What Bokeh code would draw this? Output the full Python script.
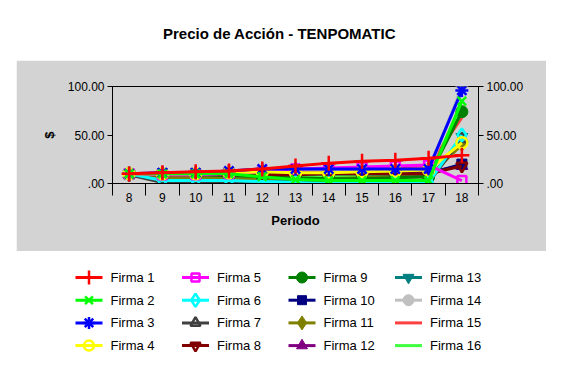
from bokeh.plotting import figure
from bokeh.models import (Range1d, FixedTicker, LinearAxis, ColumnDataSource, Spacer)
from bokeh.core.properties import value
from bokeh.layouts import column, row
from bokeh.embed import file_html
from bokeh.resources import INLINE

FONT = "Liberation Sans"
GREY = "#d3d3d3"

title_text = "Precio de Acción - TENPOMATIC"
x_label = "Periodo"
y_label = "$"
periods = [8, 9, 10, 11, 12, 13, 14, 15, 16, 17, 18]
y_ticks = [0, 50, 100]
y_tick_labels = [".00", "50.00", "100.00"]

firms = ["Firma  1", "Firma  2", "Firma  3", "Firma  4", "Firma  5", "Firma  6",
         "Firma  7", "Firma  8", "Firma  9", "Firma  10", "Firma  11", "Firma  12",
         "Firma  13", "Firma  14", "Firma  15", "Firma  16"]

firma_1 = [10, 11, 12, 13, 15, 18, 21, 23, 24, 26, 29]
firma_2 = [10, 10, 10, 10, 7, 4, 3, 3, 3, 3, 85]
firma_3 = [10, 11, 11, 13, 15, 15, 15, 15, 15, 15, 96]
firma_4 = [10, 10, 10, 11, 12, 11, 11, 12, 13, 14, 42]
firma_5 = [10, 9, 9, 10, 12, 15, 16, 17, 18, 19, 3]
firma_6 = [10, 3, 3, 3, 2, 1, 0, 0, 1, 1, 50]
firma_7 = [9, 1, 1, 1, 1, 1, 1, 1, 1, 1, 46]
firma_8 = [9, 9, 9, 9, 9, 9, 10, 10, 10, 10, 18]
firma_9 = [10, 9, 9, 8, 7, 6, 5, 5, 6, 7, 74]
firma_10 = [10, 10, 10, 11, 11, 10, 10, 10, 10, 10, 20]
firma_11 = [10, 6, 6, 5, 5, 5, 5, 6, 7, 7, 40]
firma_12 = [10, 10, 10, 11, 11, 11, 11, 12, 12, 12, 18]
firma_13 = [10, 5, 4, 3, 2, 2, 2, 2, 2, 2, 48]
firma_14 = [10, 10, 10, 11, 12, 12, 12, 12, 12, 12, 100]
firma_15 = [10, 11, 11, 12, 13, 14, 15, 16, 17, 18, 68]
firma_16 = [10, 10, 10, 10, 9, 8, 8, 8, 8, 9, 80]

series = [firma_1, firma_2, firma_3, firma_4, firma_5, firma_6, firma_7, firma_8,
          firma_9, firma_10, firma_11, firma_12, firma_13, firma_14, firma_15, firma_16]

# (color, marker, filled, plot marker size, legend marker size)
styles = [
    ("#ff0000", "cross", False, 15, 14),
    ("#00ff00", "x", False, 12, 11),
    ("#0000ff", "asterisk", False, 13, 12),
    ("#ffff00", "circle", False, 11, 10),
    ("#ff00ff", "square", False, 9, 8),
    ("#00ffff", "diamond", False, 13, 13),
    ("#404040", "triangle", False, 11, 10),
    ("#800000", "inverted_triangle", False, 11, 10),
    ("#008000", "circle", True, 12, 11),
    ("#000080", "square", True, 10, 9),
    ("#808000", "diamond", True, 14, 14),
    ("#800080", "triangle", True, 12, 11),
    ("#008080", "inverted_triangle", True, 12, 11),
    ("#c0c0c0", "circle", True, 12, 11),
    ("#ff4040", None, False, 0, 0),
    ("#40ff40", None, False, 0, 0),
]

def blank_fig(w, h):
    f = figure(width=w, height=h, output_backend="svg", toolbar_location=None,
               x_range=Range1d(0, w), y_range=Range1d(0, h),
               x_axis_location=None, y_axis_location=None,
               min_border=0, outline_line_color=None, background_fill_color="white",
               border_fill_color="white")
    f.grid.visible = False
    return f

# ---------- title ----------
TH = 60
pt = blank_fig(546, TH)
pt.text(x=[279], y=[TH - 33], text=[title_text], text_align="center",
        text_baseline="middle", text_font=value(FONT), text_font_size="15px",
        text_font_style="bold", text_color="black")

# ---------- main plot ----------
p = figure(width=530, height=191, output_backend="svg", toolbar_location=None,
           x_range=Range1d(7.5, 18.5), y_range=Range1d(0, 100),
           min_border_left=96, min_border_right=68, min_border_top=26,
           min_border_bottom=68,
           background_fill_color=GREY, border_fill_color=GREY,
           outline_line_color="black", outline_line_width=1)
p.grid.visible = False

p.xaxis.ticker = FixedTicker(ticks=periods, minor_ticks=[v - 0.5 for v in periods] + [periods[-1] + 0.5])
p.xaxis.major_tick_out = 0
p.xaxis.major_tick_in = 0
p.xaxis.minor_tick_out = 12
p.xaxis.minor_tick_in = 0
p.xaxis.minor_tick_line_color = "black"
p.xaxis.major_label_standoff = -3
p.xaxis.axis_label = x_label
p.xaxis.axis_label_standoff = 8
p.xaxis.axis_label_text_font_style = "bold"

p.yaxis.ticker = FixedTicker(ticks=y_ticks, minor_ticks=[])
p.yaxis.major_label_overrides = dict(zip(y_ticks, y_tick_labels))
p.yaxis.axis_label = y_label
p.yaxis.axis_label_standoff = 8
p.yaxis.axis_label_text_font_style = "bold"

ry = LinearAxis(ticker=FixedTicker(ticks=y_ticks, minor_ticks=[]),
                major_label_overrides=dict(zip(y_ticks, y_tick_labels)))
p.add_layout(ry, "right")

for ax in [p.xaxis[0], p.yaxis[0], ry]:
    ax.axis_line_color = "black"
    ax.major_label_text_font = FONT
    ax.major_label_text_font_size = "12px"
    ax.major_label_text_color = "black"
    ax.axis_label_text_font = FONT
    ax.axis_label_text_font_size = "13px"
    ax.axis_label_text_color = "black"
for ax in [p.yaxis[0], ry]:
    ax.major_tick_out = 5
    ax.major_tick_in = 0
    ax.major_label_standoff = 3
    ax.minor_tick_line_color = None

def add_marker(fig, src, marker, color, filled, size, lw):
    if marker is None:
        return
    if filled:
        fig.scatter("x", "y", source=src, marker=marker, size=size,
                    fill_color=color, line_color=color, line_width=1)
    else:
        fig.scatter("x", "y", source=src, marker=marker, size=size,
                    fill_color=None, line_color=color, line_width=lw)

for ys, (color, marker, filled, psize, _) in reversed(list(zip(series, styles))):
    src = ColumnDataSource(dict(x=periods, y=ys))
    p.line("x", "y", source=src, line_color=color, line_width=3)
    add_marker(p, src, marker, color, filled, psize, 2.5)

# ---------- legend (layout in pixel units of the legend panel) ----------
LH = 110
pl = blank_fig(546, LH)
for i, (name, (color, marker, filled, _, msize)) in enumerate(zip(firms, styles)):
    c, r = i // 4, i % 4
    x0 = 75 + c * 106.5
    yc = LH - (26 + r * 22.7)
    pl.segment(x0=[x0], y0=[yc], x1=[x0 + 27], y1=[yc], line_color=color, line_width=3)
    add_marker(pl, ColumnDataSource(dict(x=[x0 + 13.5], y=[yc])), marker, color, filled,
               msize, 2.5)
    pl.text(x=[x0 + 35], y=[yc], text=[name], text_align="left", text_baseline="middle",
            text_font=value(FONT), text_font_size="13px", text_color="black")

layout = column(pt, row(Spacer(width=16, height=191), p), pl)
open("out.html", "w").write(file_html(layout, INLINE))
